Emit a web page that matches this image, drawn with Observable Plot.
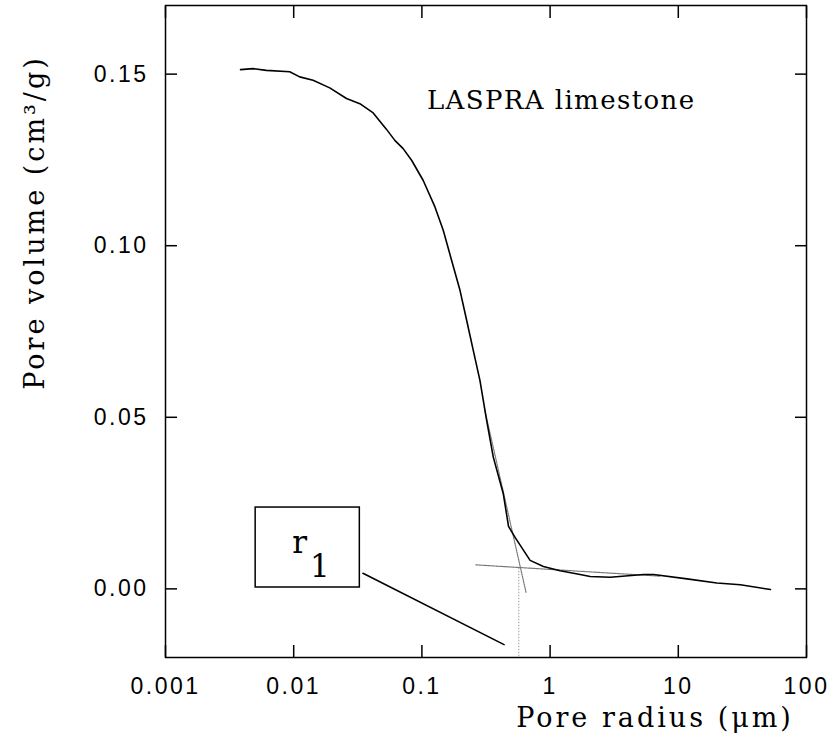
<!DOCTYPE html>
<html><head><meta charset="utf-8">
<script src="https://cdn.jsdelivr.net/npm/d3@7"></script>
<script src="https://cdn.jsdelivr.net/npm/@observablehq/plot@0.6"></script>
<style>
body{margin:0;background:#fff}
#chart svg{background:#fff}
g[aria-label="x-axis tick label"] text, g[aria-label="y-axis tick label"] text{letter-spacing:2.5px}
g[aria-description="axis-title"] text{letter-spacing:3px}
g[aria-description="sample-name"] text{letter-spacing:1.4px}
</style></head><body><div id="chart"></div>
<script>
// Mercury porosimetry curve (pore radius in µm, cumulative pore volume in cm3/g)
const radius = [0.00385,0.00481,0.00612,0.00931,0.01114,0.01416,0.0191,0.0258,0.0328,0.0417,0.0530,0.0615,0.0714,0.0831,0.1024,0.1264,0.1467,0.1706,0.1982,0.2236,0.2516,0.2838,0.3199,0.3604,0.4315,0.4740,0.5330,0.6983,0.8865,1.197,1.715,2.054,2.943,5.36,6.41,11.7,20.0,30.5,52.3];
const volume = [0.1513,0.1516,0.1511,0.1507,0.1492,0.1482,0.1460,0.1429,0.1414,0.1387,0.1339,0.1307,0.1283,0.1249,0.1190,0.1113,0.1045,0.0957,0.0870,0.0782,0.0695,0.0607,0.0491,0.0384,0.0277,0.0182,0.0150,0.0083,0.0065,0.0053,0.0042,0.0036,0.0034,0.0042,0.0042,0.0029,0.0017,0.0012,-0.0002];

// Tangent construction lines
const steepTangentX = [0.310, 0.649];
const steepTangentY = [0.0520, -0.0010];
const flatTangentX = [0.264, 7.23];
const flatTangentY = [0.0070, 0.0037];
const r1Value = [0.57];
const r1DropY = [0.0060, -0.020];

// r1 annotation box and leader
const boxX = [0.00505, 0.0328];
const boxY = [0.0004, 0.0237];
const leaderX = [0.0347, 0.4375];
const leaderY = [0.00455, -0.01624];
const boxLabel = ["r", "1"];

// Ticks and texts
const xTicks = [0.001, 0.01, 0.1, 1, 10, 100];
const xTickLabels = ["0.001", "0.01", "0.1", "1", "10", "100"];
const yTicks = [0, 0.05, 0.10, 0.15];
const yTickLabels = ["0.00", "0.05", "0.10", "0.15"];
const xTitle = "Pore radius (\u03BCm)";
const yTitle = "Pore volume (cm\u00B3/g)";
const sampleName = "LASPRA limestone";
const samplePos = {x: 0.1094, y: 0.1424};

const curve = radius.map((r, i) => ({r, v: volume[i]}));
const seg = (xs, ys) => xs.map((x, i) => ({x, y: ys[i]}));
const serif = "DejaVu Serif";
const sans = "Liberation Sans";
const xfmt = d => xTickLabels[xTicks.indexOf(d)];
const yfmt = d => yTickLabels[yTicks.findIndex(t => Math.abs(t - d) < 1e-9)];

const chart = Plot.plot({
  width: 829,
  height: 742,
  marginLeft: 165,
  marginRight: 23,
  marginTop: 5,
  marginBottom: 85,
  style: {background: "#fff", color: "#000"},
  x: {type: "log", domain: [0.001, 100]},
  y: {domain: [-0.020, 0.170]},
  marks: [
    Plot.frame({stroke: "#000", strokeWidth: 1.5}),
    Plot.axisX(xTicks, {anchor: "bottom", tickSize: 0, tickPadding: 20, tickFormat: xfmt, fontSize: 23, fontFamily: sans, label: null}),
    Plot.axisX(xTicks, {anchor: "bottom", tickSize: -12, tickFormat: () => "", strokeWidth: 1.5, label: null}),
    Plot.axisX(xTicks, {anchor: "top", tickSize: -12, tickFormat: () => "", strokeWidth: 1.5, label: null}),
    Plot.axisY(yTicks, {anchor: "left", tickSize: 0, tickPadding: 17, tickFormat: yfmt, fontSize: 23, fontFamily: sans, label: null}),
    Plot.axisY(yTicks, {anchor: "left", tickSize: -12, tickFormat: () => "", strokeWidth: 1.5, label: null}),
    Plot.axisY(yTicks, {anchor: "right", tickSize: -12, tickFormat: () => "", strokeWidth: 1.5, label: null}),
    // construction lines
    Plot.line(seg(steepTangentX, steepTangentY), {x: "x", y: "y", stroke: "#777", strokeWidth: 1.2, strokeDasharray: "1.5,1"}),
    Plot.line(seg(flatTangentX, flatTangentY), {x: "x", y: "y", stroke: "#777", strokeWidth: 1.2, strokeDasharray: "1.5,1"}),
    Plot.ruleX(r1Value, {y1: r1DropY[0], y2: r1DropY[1], stroke: "#999", strokeWidth: 1, strokeDasharray: "1.5,1.5"}),
    // main curve
    Plot.line(curve, {x: "r", y: "v", stroke: "#000", strokeWidth: 1.6, curve: "linear"}),
    // r1 box
    Plot.rect([{x1: boxX[0], x2: boxX[1], y1: boxY[0], y2: boxY[1]}], {x1: "x1", x2: "x2", y1: "y1", y2: "y2", fill: "#fff", stroke: "#000", strokeWidth: 1.5}),
    Plot.line(seg(leaderX, leaderY), {x: "x", y: "y", stroke: "#000", strokeWidth: 1.6}),
    Plot.text([boxLabel[0]], {x: Math.sqrt(boxX[0] * boxX[1]), y: (boxY[0] + boxY[1]) / 2, text: d => d, dx: -8, dy: -4, fontSize: 31, fontFamily: serif}),
    Plot.text([boxLabel[1]], {x: Math.sqrt(boxX[0] * boxX[1]), y: (boxY[0] + boxY[1]) / 2, text: d => d, dx: 12, dy: 20, fontSize: 31, fontFamily: serif}),
    // sample name
    Plot.text([sampleName], {x: samplePos.x, y: samplePos.y, text: d => d, textAnchor: "start", fontSize: 26, fontFamily: serif, ariaDescription: "sample-name"}),
    // axis titles
    Plot.text([xTitle], {frameAnchor: "bottom", text: d => d, dx: 169, dy: 61, fontSize: 27, fontFamily: serif, textAnchor: "middle", lineAnchor: "middle", ariaDescription: "axis-title"}),
    Plot.text([yTitle], {frameAnchor: "left", text: d => d, dx: -130, dy: -109, rotate: -90, fontSize: 27, fontFamily: serif, textAnchor: "middle", lineAnchor: "middle", ariaDescription: "axis-title"})
  ]
});
document.getElementById("chart").appendChild(chart);
</script></body></html>
